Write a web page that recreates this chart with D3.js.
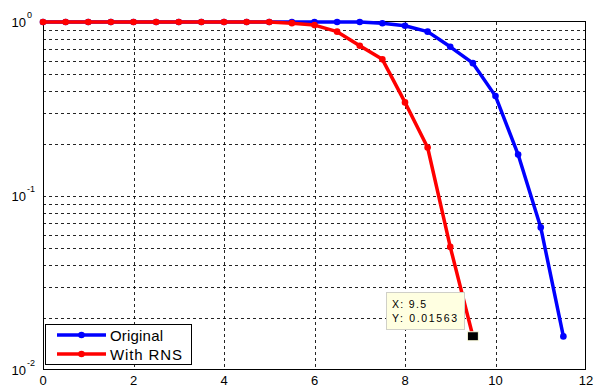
<!DOCTYPE html>
<html>
<head>
<meta charset="utf-8">
<script src="https://cdn.jsdelivr.net/npm/d3@7"></script>
<style>
html,body{margin:0;padding:0;background:#fff;}
svg{display:block;}
text{font-family:"Liberation Sans",Arial,sans-serif;fill:#000;}
</style>
</head>
<body>
<svg id="chart" width="595" height="388"></svg>
<script>
// ---- data ----
const xOriginal = [0,0.5,1,1.5,2,2.5,3,3.5,4,4.5,5,5.5,6,6.5,7,7.5,8,8.5,9,9.5,10,10.5,11,11.5];
const yOriginal = [1,1,1,1,1,1,1,1,1,1,1,1,1,1,1,0.983,0.952,0.88,0.72,0.58,0.375,0.173,0.066,0.0156];
const xRNS = [0,0.5,1,1.5,2,2.5,3,3.5,4,4.5,5,5.5,6,6.5,7,7.5,8,8.5,9,9.5];
const yRNS = [1,1,1,1,1,1,1,1,1,1,1,0.985,0.96,0.88,0.73,0.61,0.345,0.19,0.051,0.01563];
const xTicks = [0,2,4,6,8,10,12];
const yTicks = [1,0.1,0.01];
const yTickExp = ["0","-1","-2"];
const seriesNames = ["Original","With RNS"];
const seriesColors = ["#0000ff","#ff0000"];
const tipX = 9.5, tipY = 0.01563;
const tipLines = ["X: 9.5","Y: 0.01563"];

// ---- layout ----
const L = 43, R = 586, T = 22, B = 370;
const svg = d3.select("#chart");
const x = d3.scaleLinear().domain([0,12]).range([L,R]);
const y = d3.scaleLog().domain([0.01,1]).range([B,T]);
const px = v => Math.round(v) + 0.5;

// minor grid values
const gridY = [];
[0.01,0.1].forEach(d => { for (let k=1;k<10;k++) gridY.push(d*k); });
const gridYVals = gridY.filter(v => v > 0.0100001 && v < 0.99999);

const g = svg.append("g");
// horizontal grid
g.selectAll("line.hg").data(gridYVals).enter().append("line")
  .attr("x1", L).attr("x2", R)
  .attr("y1", d => px(y(d))).attr("y2", d => px(y(d)))
  .attr("stroke", "#000").attr("stroke-width", 1).attr("stroke-dasharray", "3,3").attr("opacity",0.85);
// vertical grid
g.selectAll("line.vg").data(xTicks.filter(t => t>0 && t<12)).enter().append("line")
  .attr("x1", d => px(x(d))).attr("x2", d => px(x(d)))
  .attr("y1", T).attr("y2", B)
  .attr("stroke", "#000").attr("stroke-width", 1).attr("stroke-dasharray", "3,3").attr("opacity",0.85);

// axes box
svg.append("rect").attr("x", L+0.5).attr("y", T-0.5).attr("width", R-L-1).attr("height", B-T)
  .attr("fill","none").attr("stroke","#000").attr("stroke-width",1);

// x tick labels
svg.selectAll("text.xt").data(xTicks).enter().append("text")
  .attr("x", d => x(d)).attr("y", 385)
  .attr("text-anchor","middle").attr("font-size","13px")
  .text(d => d);

// y tick labels
yTicks.forEach((v,i) => {
  const yy = y(v);
  svg.append("text").attr("x", 26).attr("y", yy + 4.6)
    .attr("text-anchor","end").attr("font-size","13px").text("10");
  svg.append("text").attr("x", 27).attr("y", yy - 4.5)
    .attr("text-anchor","start").attr("font-size","9px").text(yTickExp[i]);
});

// series
const line = d3.line().x(d => x(d[0])).y(d => y(d[1]));
const series = [
  d3.zip(xOriginal, yOriginal),
  d3.zip(xRNS, yRNS)
];
series.forEach((pts, i) => {
  svg.append("path").datum(pts).attr("d", line)
    .attr("fill","none").attr("stroke", seriesColors[i]).attr("stroke-width",3.5)
    .attr("stroke-linejoin","round");
  svg.selectAll("circle.s"+i).data(pts).enter().append("circle")
    .attr("cx", d => x(d[0])).attr("cy", d => y(d[1])).attr("r", 3.3)
    .attr("fill", seriesColors[i]);
});

// data tip
const tx = x(tipX), ty = y(tipY);
svg.append("rect").attr("x", tx-5.5).attr("y", ty-4.5).attr("width", 11).attr("height", 9)
  .attr("fill","#000").attr("stroke","#ffffe1").attr("stroke-width",1);
svg.append("rect").attr("x", 386.5).attr("y", 292.5).attr("width", 78).attr("height", 37)
  .attr("fill","#ffffe1").attr("stroke","#d0d0c8").attr("stroke-width",1);
svg.append("text").attr("x", 392).attr("y", 307.5).attr("font-size","10.5px")
  .attr("textLength", 34).attr("lengthAdjust","spacing").text(tipLines[0]);
svg.append("text").attr("x", 392).attr("y", 322).attr("font-size","10.5px")
  .attr("textLength", 65).attr("lengthAdjust","spacing").text(tipLines[1]);

// legend
const lg = svg.append("g");
lg.append("rect").attr("x", 45.5).attr("y", 324.5).attr("width", 146).attr("height", 40)
  .attr("fill","#fff").attr("stroke","#000").attr("stroke-width",1);
const legY = [335, 354];
const legW = [53, 72];
seriesNames.forEach((name, i) => {
  lg.append("line").attr("x1", 57).attr("x2", 106).attr("y1", legY[i]).attr("y2", legY[i])
    .attr("stroke", seriesColors[i]).attr("stroke-width", 3.5);
  lg.append("circle").attr("cx", 81.5).attr("cy", legY[i]).attr("r", 3.3).attr("fill", seriesColors[i]);
  lg.append("text").attr("x", 110).attr("y", legY[i] + 6).attr("font-size","15px")
    .attr("textLength", legW[i]).attr("lengthAdjust","spacing").text(name);
});
</script>
</body>
</html>
